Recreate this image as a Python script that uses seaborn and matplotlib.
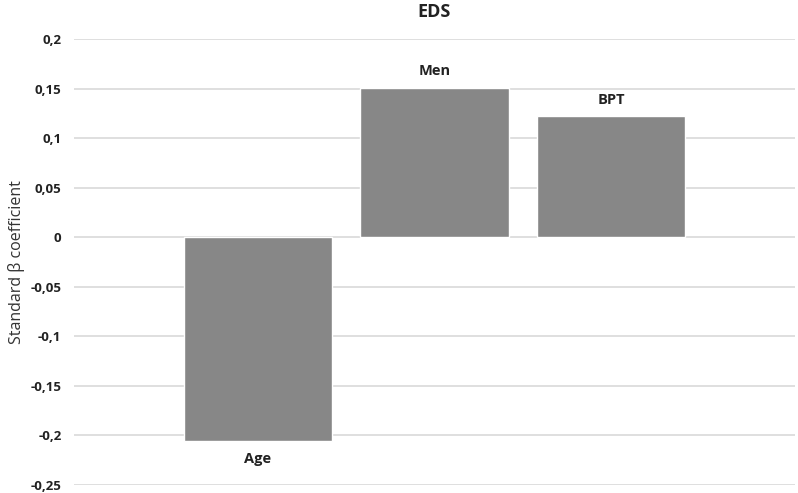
import matplotlib
matplotlib.use("Agg")
import matplotlib.pyplot as plt
import seaborn as sns
import pandas as pd
from matplotlib.ticker import FuncFormatter, MultipleLocator

categories = ["Age", "Men", "BPT"]
values = [-0.206, 0.151, 0.122]
title = "EDS"
ylabel = "Standard β coefficient"

sns.set_style("white")
plt.rcParams['font.family'] = ['Open Sans', 'DejaVu Sans']

df = pd.DataFrame({"cat": categories, "val": values})

fig = plt.figure(figsize=(7.98, 4.93), dpi=100)
ax = fig.add_axes([74/798, 1-485/493, (795-74)/798, (485-39)/493])

sns.barplot(data=df, x="cat", y="val", order=categories, color="#878787",
            saturation=1, width=0.84, ax=ax, zorder=3)

ax.set_xlim(-1.04, 3.04)
ax.set_ylim(-0.25, 0.2)
ax.yaxis.set_major_locator(MultipleLocator(0.05))

def fmt(v, pos):
    v = round(v, 4)
    if abs(v) < 1e-9:
        return "0"
    return f"{v:g}".replace(".", ",")

ax.yaxis.set_major_formatter(FuncFormatter(fmt))
ax.grid(axis="y", color="#d9d9d9", linewidth=1.2, zorder=0)
ax.set_axisbelow(True)
for s in ax.spines.values():
    s.set_visible(False)
ax.set_xticks([])
ax.set_xlabel("")
ax.tick_params(axis="y", length=0, pad=9, labelsize=9.5, labelcolor="#222222")
fig.canvas.draw()
for lab in ax.get_yticklabels():
    lab.set_fontweight("bold")
ax.set_ylabel(ylabel, fontsize=11.5, color="#333333", labelpad=4)

for i, (c, v) in enumerate(zip(categories, values)):
    off = 12 if v >= 0 else -12.5
    ax.annotate(c, (i, v), xytext=(0, off), textcoords="offset points",
                ha="center", va="center", fontsize=10.5, fontweight="bold",
                color="#222222")

fig.text((74+795)/2/798, 1-12/493, title, ha="center", va="center",
         fontsize=13, fontweight="bold", color="#222222")

fig.savefig("out.png", dpi=100)
